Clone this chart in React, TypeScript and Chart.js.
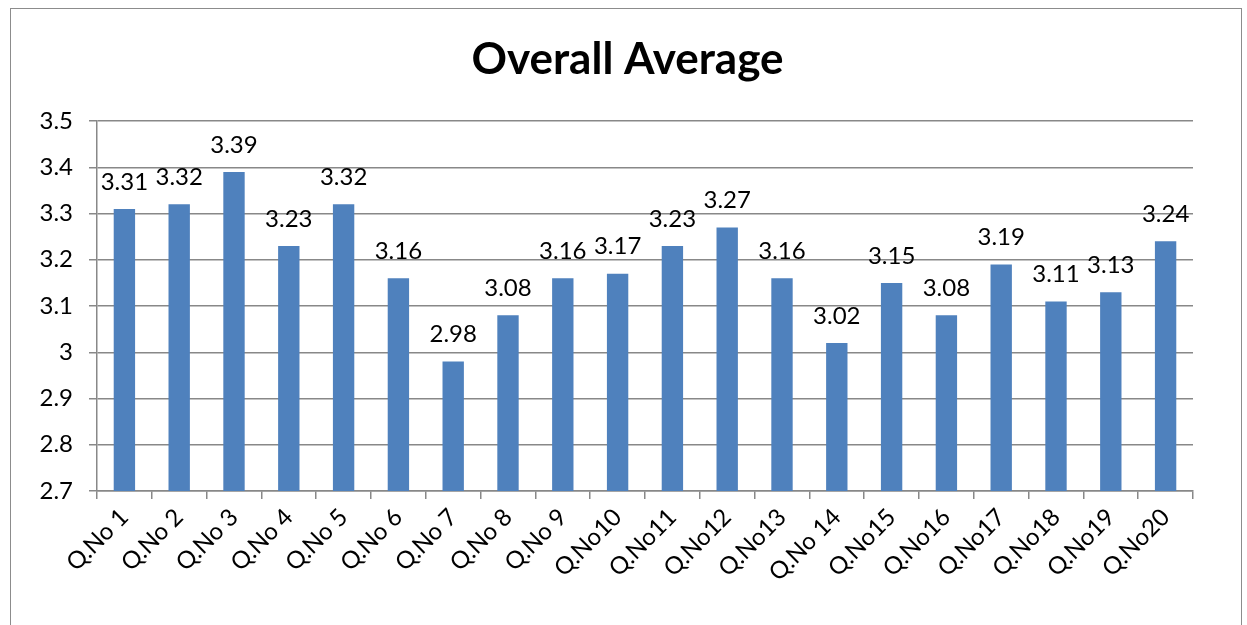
import React, { useEffect, useRef } from "react";
import { Chart, registerables } from "chart.js";

Chart.register(...registerables);

const categories = [
  "Q.No 1", "Q.No 2", "Q.No 3", "Q.No 4", "Q.No 5", "Q.No 6", "Q.No 7", "Q.No 8", "Q.No 9", "Q.No10",
  "Q.No11", "Q.No12", "Q.No13", "Q.No 14", "Q.No15", "Q.No16", "Q.No17", "Q.No18", "Q.No19", "Q.No20",
];
const averages = [3.31, 3.32, 3.39, 3.23, 3.32, 3.16, 2.98, 3.08, 3.16, 3.17, 3.23, 3.27, 3.16, 3.02, 3.15, 3.08, 3.19, 3.11, 3.13, 3.24];
const yMin = 2.7;
const yMax = 3.5;
const yStep = 0.1;
const titleText = "Overall Average";

const FONT = "Lato, 'Open Sans', sans-serif";

const valueLabels = {
  id: "valueLabels",
  afterDatasetsDraw(chart: any) {
    const ctx = chart.ctx;
    const meta = chart.getDatasetMeta(0);
    ctx.save();
    ctx.font = `24px ${FONT}`;
    ctx.fillStyle = "#000";
    ctx.textAlign = "center";
    ctx.textBaseline = "middle";
    meta.data.forEach((bar: any, i: number) => {
      const v = chart.data.datasets[0].data[i] as number;
      ctx.fillText(v.toFixed(2), bar.x, bar.y - 27);
    });
    ctx.restore();
  },
};

const centeredTitle = {
  id: "centeredTitle",
  afterDraw(chart: any) {
    const ctx = chart.ctx;
    ctx.save();
    ctx.font = `bold 44px ${FONT}`;
    ctx.fillStyle = "#000";
    ctx.textAlign = "center";
    ctx.textBaseline = "middle";
    ctx.fillText(titleText, chart.width / 2 + 4, 60);
    ctx.restore();
  },
};

export default function App() {
  const ref = useRef<HTMLCanvasElement>(null);
  useEffect(() => {
    if (!ref.current) return;
    const chart = new Chart(ref.current, {
      type: "bar",
      data: {
        labels: categories,
        datasets: [
          {
            data: averages,
            backgroundColor: "#4F81BD",
            borderColor: "#4F81BD",
            borderWidth: 0,
            categoryPercentage: 1,
            barPercentage: 0.39,
          },
        ],
      },
      options: {
        responsive: false,
        animation: false,
        devicePixelRatio: 1,
        layout: { padding: { left: 0, right: 54, top: 121, bottom: 0 } },
        plugins: {
          legend: { display: false },
          tooltip: { enabled: false },
          title: { display: false },
        },
        scales: {
          x: {
            grid: {
              display: true,
              drawOnChartArea: false,
              drawTicks: true,
              tickLength: 8,
              color: "#888",
              lineWidth: 1.5,
              offset: true,
            },
            border: { display: true, color: "#888", width: 1.5 },
            ticks: {
              color: "#000",
              font: { family: FONT, size: 24 },
              maxRotation: 45,
              minRotation: 45,
              autoSkip: false,
              padding: 4,
            },
            afterFit(scale: any) {
              scale.height = 134;
            },
          },
          y: {
            min: yMin,
            max: yMax,
            grid: {
              color: "#888",
              lineWidth: 1.5,
              tickLength: 8,
              drawTicks: true,
            },
            border: { display: true, color: "#888", width: 1.5 },
            ticks: {
              stepSize: yStep,
              color: "#000",
              font: { family: FONT, size: 24 },
              padding: 16,
              callback: (v: any) => String(Number(Number(v).toFixed(1))),
            },
            afterFit(scale: any) {
              scale.width = 97;
            },
          },
        },
      },
      plugins: [valueLabels, centeredTitle],
    });
    return () => chart.destroy();
  }, []);

  return (
    <div style={{ position: "absolute", left: 0, top: 0, width: 1247, height: 625, overflow: "hidden", background: "#fff" }}>
      <canvas ref={ref} width={1247} height={625} style={{ position: "absolute", left: 0, top: 0 }} />
      <div
        style={{
          position: "absolute",
          left: 10,
          top: 8,
          width: 1230,
          height: 640,
          border: "1.5px solid #8c8c8c",
          pointerEvents: "none",
        }}
      />
    </div>
  );
}
